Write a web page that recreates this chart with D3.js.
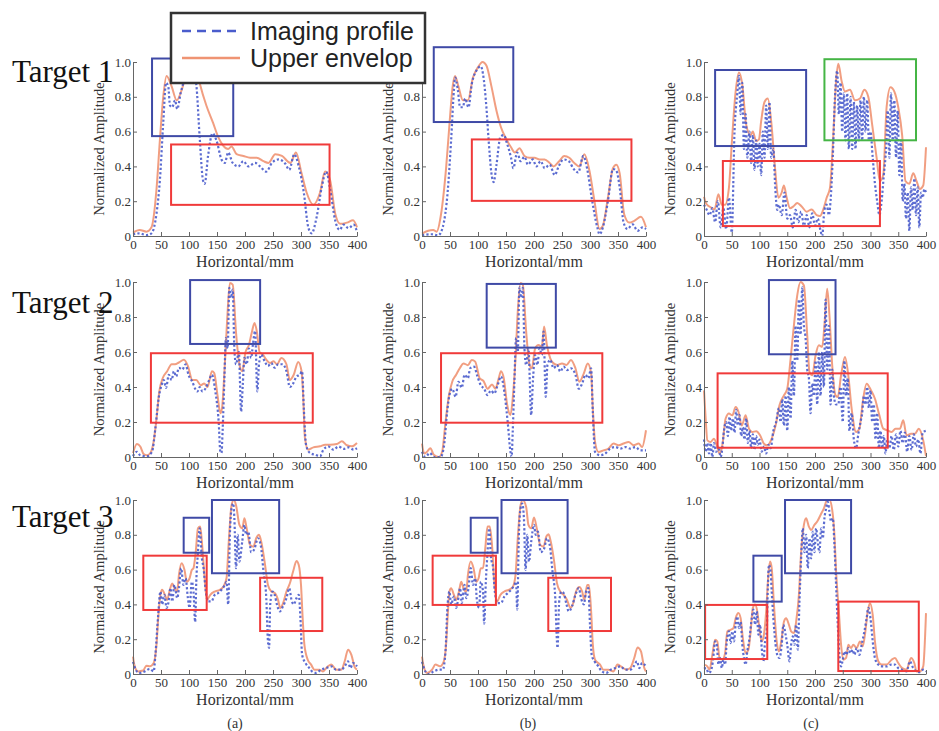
<!DOCTYPE html>
<html lang="en">
<head>
<meta charset="UTF-8">
<title>Imaging profile vs upper envelope</title>
<script src="https://d3js.org/d3.v7.min.js"></script>
<style>
  body { margin: 0; background: #fff; }
  svg { display: block; }
  .axis path, .axis line { stroke: #666; }
  .axis text { fill: #333; font-family: "Liberation Serif", "Times New Roman", serif; font-size: 13px; }
  .lab { fill: #333; font-family: "Liberation Serif", "Times New Roman", serif; }
</style>
</head>
<body>
<svg id="chart" width="939" height="731"></svg>
<script>
// ---- data (x in mm, y normalized amplitude) ----
const targets = ["Target 1", "Target 2", "Target 3"];
const methods = ["(a)", "(b)", "(c)"];
const seriesNames = ["Imaging profile", "Upper envelop"];
const xTicks = [0, 50, 100, 150, 200, 250, 300, 350, 400];
const yTicks = [0, 0.2, 0.4, 0.6, 0.8, 1.0];

// Target 1
const env1a = [[0,0.02],[12,0.035],[24,0.025],[33,0.05],[42,0.27],[48,0.55],[54,0.80],[60,0.92],[69,0.86],[78,0.78],[87,0.84],[97,0.95],[106,1.0],[113,0.96],[119,0.88],[131,0.75],[143,0.65],[152,0.57],[161,0.52],[170,0.50],[176,0.515],[185,0.47],[197,0.46],[209,0.45],[221,0.45],[233,0.43],[242,0.42],[254,0.47],[266,0.46],[281,0.42],[291,0.48],[301,0.36],[310,0.25],[322,0.18],[334,0.25],[343,0.37],[352,0.32],[361,0.13],[370,0.07],[382,0.077],[393,0.09],[400,0.05]];
const prof1a = [[0,0.01],[12,0.015],[24,0.005],[33,0.015],[42,0.13],[48,0.32],[54,0.65],[59,0.88],[63,0.86],[66,0.75],[70,0.74],[75,0.78],[79,0.73],[85,0.82],[92,0.9],[100,0.95],[106,0.96],[113,0.87],[119,0.57],[125,0.32],[128,0.30],[134,0.46],[142,0.59],[149,0.55],[158,0.44],[164,0.42],[170,0.48],[178,0.42],[188,0.40],[197,0.43],[206,0.40],[218,0.42],[227,0.40],[238,0.37],[248,0.42],[260,0.44],[272,0.415],[279,0.38],[288,0.47],[296,0.40],[305,0.25],[313,0.05],[319,0.015],[328,0.11],[337,0.28],[345,0.37],[352,0.27],[361,0.09],[369,0.035],[376,0.065],[385,0.045],[394,0.065],[400,0.025]];
const env1b = [[0,0.013],[11,0.03],[20,0.035],[26,0.025],[34,0.125],[43,0.39],[49,0.64],[55,0.865],[59,0.92],[65,0.86],[73,0.78],[82,0.78],[91,0.91],[100,0.97],[108,1.0],[115,0.98],[124,0.86],[133,0.72],[141,0.625],[150,0.56],[159,0.51],[166,0.48],[174,0.505],[183,0.46],[192,0.45],[201,0.45],[210,0.44],[219,0.44],[228,0.42],[235,0.40],[245,0.43],[254,0.46],[263,0.45],[272,0.42],[281,0.40],[290,0.47],[299,0.375],[308,0.20],[317,0.04],[323,0.06],[332,0.22],[341,0.39],[347,0.41],[353,0.36],[361,0.125],[370,0.077],[379,0.087],[391,0.11],[400,0.05]];
const prof1b = [[0,0.005],[17,0.01],[29,0.004],[37,0.05],[46,0.26],[52,0.55],[57,0.84],[59,0.91],[64,0.84],[68,0.74],[73,0.74],[77,0.79],[83,0.74],[89,0.875],[97,0.95],[105,0.975],[109,0.93],[115,0.74],[119,0.55],[124,0.36],[128,0.31],[133,0.41],[140,0.57],[146,0.58],[152,0.53],[159,0.45],[163,0.39],[170,0.48],[176,0.43],[183,0.455],[189,0.41],[198,0.44],[204,0.40],[212,0.43],[219,0.39],[228,0.41],[237,0.35],[244,0.40],[253,0.44],[262,0.43],[271,0.385],[279,0.365],[288,0.46],[295,0.385],[303,0.22],[313,0.05],[317,0.01],[323,0.05],[332,0.20],[341,0.385],[347,0.375],[353,0.28],[360,0.077],[367,0.04],[376,0.067],[385,0.03],[394,0.05],[400,0.04]];
const env1c = [[0,0.225],[4,0.185],[13,0.163],[19,0.153],[26,0.24],[32,0.18],[38,0.18],[45,0.28],[50,0.53],[57,0.83],[63,0.94],[69,0.87],[76,0.64],[84,0.58],[88,0.60],[94,0.545],[99,0.555],[103,0.66],[109,0.77],[115,0.79],[121,0.66],[128,0.39],[134,0.22],[140,0.25],[144,0.29],[149,0.22],[155,0.16],[161,0.17],[168,0.19],[176,0.17],[185,0.14],[194,0.153],[203,0.12],[209,0.115],[215,0.153],[221,0.22],[227,0.277],[233,0.58],[238,0.89],[242,0.99],[248,0.89],[254,0.83],[263,0.84],[272,0.78],[281,0.79],[289,0.84],[296,0.80],[303,0.64],[311,0.45],[317,0.315],[323,0.35],[329,0.74],[336,0.855],[343,0.83],[350,0.74],[357,0.58],[363,0.315],[370,0.30],[377,0.36],[383,0.315],[389,0.27],[395,0.29],[400,0.51]];
const prof1c = [[0,0.18],[5,0.15],[10,0.12],[15,0.16],[20,0.08],[25,0.2],[30,0.05],[35,0.16],[40,0.04],[45,0.22],[50,0.02],[55,0.6],[60,0.82],[63,0.92],[66,0.7],[69,0.88],[72,0.5],[75,0.7],[78,0.45],[82,0.6],[85,0.42],[88,0.58],[91,0.38],[94,0.55],[97,0.4],[100,0.53],[103,0.35],[106,0.6],[109,0.45],[112,0.75],[115,0.5],[118,0.77],[121,0.45],[125,0.5],[128,0.3],[132,0.15],[135,0.18],[140,0.12],[145,0.25],[150,0.1],[155,0.12],[160,0.05],[165,0.15],[170,0.08],[175,0.14],[180,0.06],[185,0.12],[190,0.05],[195,0.13],[200,0.06],[205,0.1],[210,0.03],[213,0.0],[217,0.15],[221,0.18],[225,0.12],[228,0.2],[232,0.45],[236,0.8],[240,0.95],[243,0.7],[246,0.88],[249,0.6],[252,0.82],[255,0.55],[258,0.82],[261,0.5],[264,0.8],[267,0.5],[270,0.77],[273,0.5],[276,0.75],[279,0.55],[282,0.78],[285,0.55],[288,0.8],[291,0.6],[294,0.78],[297,0.55],[300,0.6],[304,0.45],[308,0.3],[312,0.2],[316,0.12],[320,0.2],[324,0.35],[328,0.5],[331,0.72],[334,0.45],[337,0.82],[340,0.55],[343,0.78],[346,0.45],[349,0.72],[352,0.35],[355,0.55],[358,0.2],[361,0.3],[364,0.1],[367,0.25],[370,0.03],[373,0.28],[376,0.15],[379,0.33],[382,0.12],[385,0.28],[388,0.05],[391,0.25],[394,0.22],[397,0.27],[400,0.25]];

// Target 2
const env2a = [[0,0.023],[7,0.074],[13,0.06],[19,0.017],[25,0.01],[31,0.023],[37,0.09],[42,0.22],[47,0.375],[53,0.45],[61,0.49],[69,0.53],[75,0.53],[82,0.54],[91,0.556],[98,0.52],[106,0.44],[113,0.44],[121,0.41],[127,0.42],[133,0.40],[141,0.49],[145,0.48],[151,0.35],[156,0.25],[159,0.28],[163,0.47],[168,0.775],[173,0.995],[178,0.985],[184,0.71],[190,0.53],[195,0.49],[201,0.60],[207,0.64],[212,0.71],[217,0.766],[221,0.72],[226,0.60],[232,0.585],[238,0.556],[245,0.537],[251,0.547],[257,0.53],[265,0.566],[274,0.53],[280,0.44],[287,0.47],[295,0.543],[301,0.49],[304,0.34],[307,0.11],[313,0.042],[322,0.055],[334,0.061],[343,0.07],[352,0.07],[364,0.074],[373,0.09],[382,0.067],[391,0.061],[400,0.08]];
const prof2a = [[0,0.005],[7,0.03],[13,0.01],[25,0.004],[34,0.03],[40,0.165],[46,0.34],[51,0.41],[55,0.44],[59,0.395],[64,0.47],[69,0.44],[73,0.49],[77,0.46],[82,0.51],[88,0.50],[94,0.53],[99,0.47],[106,0.43],[111,0.39],[115,0.375],[119,0.40],[124,0.375],[130,0.394],[136,0.44],[141,0.47],[147,0.375],[153,0.20],[156,0.03],[158,0.023],[160,0.147],[163,0.43],[166,0.68],[169,0.62],[172,0.966],[175,0.91],[178,0.957],[181,0.62],[184,0.53],[189,0.60],[193,0.26],[196,0.41],[199,0.566],[203,0.53],[207,0.62],[211,0.566],[214,0.64],[218,0.72],[222,0.375],[225,0.53],[229,0.585],[235,0.547],[241,0.52],[247,0.537],[253,0.51],[259,0.53],[267,0.53],[274,0.49],[280,0.40],[286,0.42],[292,0.46],[298,0.47],[302,0.49],[305,0.28],[309,0.07],[316,0.023],[325,0.013],[334,0.004],[340,0.042],[349,0.06],[358,0.042],[367,0.06],[376,0.046],[385,0.055],[394,0.042],[400,0.05]];
const env2b = [[0,0.077],[4,0.02],[9,0.03],[15,0.05],[21,0.013],[30,0.0],[36,0.03],[42,0.20],[48,0.35],[54,0.43],[61,0.47],[68,0.51],[74,0.535],[82,0.525],[89,0.555],[95,0.545],[103,0.45],[110,0.434],[117,0.39],[125,0.415],[131,0.39],[137,0.45],[141,0.49],[146,0.45],[152,0.30],[158,0.24],[162,0.335],[167,0.564],[171,0.83],[176,0.994],[180,0.985],[186,0.717],[192,0.526],[196,0.507],[202,0.62],[208,0.64],[214,0.63],[218,0.746],[223,0.64],[229,0.564],[235,0.535],[242,0.526],[250,0.535],[258,0.526],[266,0.555],[274,0.507],[281,0.43],[289,0.478],[296,0.535],[302,0.478],[305,0.277],[309,0.086],[315,0.029],[324,0.038],[333,0.048],[342,0.077],[351,0.067],[360,0.077],[369,0.086],[378,0.067],[387,0.077],[393,0.057],[400,0.153]];
const prof2b = [[0,0.03],[6,0.0],[14,0.023],[21,0.0],[33,0.0],[39,0.057],[45,0.26],[49,0.354],[54,0.39],[60,0.344],[65,0.43],[71,0.396],[76,0.47],[82,0.45],[86,0.507],[93,0.516],[99,0.46],[105,0.41],[111,0.39],[117,0.354],[123,0.38],[129,0.363],[135,0.41],[141,0.46],[147,0.373],[153,0.20],[158,0.029],[160,0.0],[162,0.143],[165,0.43],[168,0.68],[171,0.60],[174,0.97],[177,0.91],[180,0.966],[183,0.62],[186,0.526],[190,0.62],[195,0.24],[198,0.43],[202,0.583],[206,0.526],[210,0.62],[214,0.583],[217,0.717],[221,0.344],[224,0.526],[229,0.555],[235,0.507],[241,0.526],[247,0.488],[253,0.516],[259,0.497],[266,0.507],[274,0.47],[280,0.39],[286,0.42],[292,0.47],[297,0.45],[302,0.507],[305,0.258],[309,0.029],[318,0.01],[327,0.019],[336,0.048],[345,0.057],[354,0.048],[363,0.057],[372,0.048],[381,0.057],[390,0.038],[400,0.038]];
const env2c = [[0,0.38],[3,0.22],[6,0.095],[12,0.086],[18,0.105],[24,0.057],[28,0.019],[33,0.067],[39,0.22],[45,0.248],[51,0.238],[57,0.286],[62,0.26],[68,0.18],[75,0.238],[81,0.162],[87,0.143],[94,0.147],[101,0.124],[108,0.076],[114,0.067],[122,0.105],[129,0.18],[136,0.295],[144,0.352],[150,0.39],[156,0.56],[162,0.752],[168,0.924],[174,1.0],[180,0.98],[186,0.695],[190,0.486],[195,0.467],[201,0.58],[207,0.638],[213,0.63],[217,0.752],[222,0.962],[226,0.81],[231,0.524],[237,0.352],[241,0.343],[247,0.467],[254,0.571],[260,0.467],[266,0.276],[274,0.143],[280,0.162],[286,0.314],[293,0.419],[301,0.38],[308,0.333],[316,0.238],[323,0.162],[331,0.152],[338,0.143],[345,0.162],[353,0.162],[359,0.21],[365,0.124],[373,0.133],[380,0.133],[387,0.162],[395,0.095],[400,0.005]];
const prof2c = [[0,0.1],[3,0.03],[6,0.08],[9,0.02],[12,0.08],[15,0.0],[18,0.08],[22,0.03],[26,0.06],[30,0.0],[33,0.05],[36,0.15],[40,0.2],[43,0.12],[46,0.23],[49,0.15],[52,0.22],[55,0.14],[58,0.27],[61,0.18],[64,0.24],[67,0.12],[70,0.17],[73,0.1],[76,0.22],[79,0.08],[82,0.15],[85,0.05],[88,0.13],[91,0.04],[94,0.12],[97,0.07],[100,0.1],[104,0.03],[108,0.06],[112,0.02],[116,0.07],[120,0.05],[125,0.15],[130,0.2],[135,0.28],[138,0.2],[141,0.33],[144,0.18],[147,0.35],[150,0.15],[153,0.4],[156,0.22],[159,0.55],[162,0.35],[165,0.75],[168,0.55],[171,0.9],[174,0.7],[177,0.97],[180,0.75],[183,0.68],[186,0.5],[189,0.45],[192,0.25],[195,0.42],[198,0.35],[201,0.55],[204,0.3],[207,0.6],[210,0.35],[213,0.6],[216,0.4],[219,0.9],[222,0.5],[225,0.75],[228,0.3],[231,0.5],[234,0.35],[238,0.3],[242,0.3],[246,0.4],[250,0.2],[253,0.55],[256,0.35],[259,0.45],[262,0.15],[266,0.25],[270,0.1],[274,0.05],[278,0.13],[282,0.2],[285,0.25],[288,0.35],[291,0.3],[294,0.4],[297,0.28],[300,0.38],[303,0.2],[306,0.3],[309,0.1],[312,0.25],[315,0.05],[318,0.15],[321,0.05],[324,0.12],[327,0.02],[330,0.1],[334,0.05],[338,0.12],[342,0.04],[346,0.13],[350,0.06],[354,0.15],[358,0.08],[362,0.14],[366,0.03],[370,0.12],[374,0.04],[378,0.13],[382,0.06],[386,0.1],[390,0.02],[394,0.14],[400,0.15]];

// Target 3
const env3a = [[0,0.10],[3,0.044],[9,0.015],[18,0.02],[24,0.048],[30,0.044],[37,0.063],[42,0.17],[45,0.32],[49,0.455],[52,0.484],[57,0.455],[61,0.426],[65,0.474],[70,0.52],[74,0.493],[79,0.474],[82,0.57],[87,0.637],[92,0.598],[96,0.53],[101,0.55],[105,0.598],[108,0.608],[112,0.70],[116,0.837],[120,0.847],[123,0.76],[128,0.55],[132,0.426],[138,0.455],[146,0.474],[155,0.484],[161,0.50],[167,0.55],[171,0.76],[176,0.97],[180,1.0],[184,0.97],[190,0.857],[195,0.837],[199,0.895],[203,0.837],[209,0.742],[215,0.732],[220,0.78],[225,0.80],[229,0.76],[235,0.646],[241,0.512],[247,0.474],[253,0.465],[259,0.426],[263,0.38],[268,0.407],[274,0.474],[280,0.52],[286,0.59],[292,0.65],[296,0.627],[300,0.512],[303,0.32],[306,0.17],[312,0.082],[318,0.054],[324,0.025],[333,0.025],[339,0.015],[348,0.044],[354,0.054],[363,0.025],[372,0.025],[378,0.073],[384,0.14],[390,0.11],[396,0.038],[400,0.025]];
const prof3a = [[0,0.07],[5,0.025],[11,0.006],[21,0.015],[30,0.029],[37,0.015],[40,0.11],[45,0.34],[49,0.474],[52,0.40],[56,0.455],[60,0.38],[63,0.407],[67,0.493],[70,0.417],[74,0.512],[79,0.436],[82,0.493],[86,0.608],[90,0.512],[94,0.55],[98,0.436],[101,0.38],[105,0.53],[108,0.474],[111,0.30],[113,0.53],[116,0.70],[119,0.837],[123,0.665],[126,0.608],[130,0.474],[134,0.417],[140,0.417],[146,0.455],[152,0.465],[158,0.484],[164,0.512],[167,0.53],[170,0.40],[173,0.80],[176,0.952],[179,0.98],[181,0.895],[184,0.608],[187,0.80],[190,0.646],[195,0.76],[199,0.857],[202,0.80],[206,0.818],[211,0.70],[217,0.72],[223,0.78],[228,0.742],[233,0.59],[238,0.436],[241,0.187],[243,0.15],[245,0.40],[249,0.474],[253,0.455],[257,0.40],[262,0.36],[268,0.39],[274,0.436],[279,0.493],[283,0.426],[287,0.40],[292,0.436],[296,0.455],[299,0.32],[302,0.11],[308,0.063],[315,0.034],[321,0.011],[327,0.006],[336,0.025],[345,0.034],[354,0.044],[363,0.025],[372,0.025],[378,0.044],[384,0.073],[388,0.034],[393,0.063],[400,0.044]];
const env3b = [[0,0.10],[3,0.044],[9,0.006],[18,0.025],[24,0.054],[32,0.044],[39,0.073],[43,0.17],[46,0.34],[49,0.474],[52,0.493],[57,0.455],[61,0.426],[66,0.474],[70,0.53],[74,0.493],[79,0.474],[82,0.57],[87,0.646],[92,0.608],[97,0.53],[101,0.55],[105,0.608],[109,0.608],[113,0.723],[117,0.847],[121,0.847],[125,0.742],[129,0.53],[134,0.417],[140,0.455],[147,0.474],[155,0.484],[162,0.50],[167,0.57],[171,0.78],[176,0.97],[180,1.0],[186,0.96],[190,0.857],[195,0.837],[200,0.90],[205,0.837],[211,0.742],[217,0.732],[222,0.79],[226,0.803],[230,0.76],[236,0.646],[241,0.522],[247,0.474],[253,0.455],[259,0.426],[265,0.38],[270,0.407],[275,0.474],[281,0.50],[286,0.474],[290,0.426],[295,0.512],[298,0.512],[302,0.36],[305,0.17],[309,0.082],[318,0.054],[324,0.025],[333,0.025],[342,0.015],[349,0.054],[355,0.044],[365,0.025],[372,0.034],[379,0.092],[385,0.153],[391,0.13],[397,0.034],[400,0.015]];
const prof3b = [[0,0.07],[6,0.015],[12,0.0],[21,0.015],[30,0.025],[37,0.025],[42,0.13],[45,0.36],[49,0.474],[52,0.40],[57,0.445],[61,0.38],[64,0.417],[68,0.493],[71,0.407],[76,0.512],[79,0.436],[83,0.493],[87,0.608],[91,0.512],[95,0.55],[98,0.426],[102,0.38],[105,0.53],[109,0.474],[111,0.29],[114,0.53],[117,0.70],[120,0.837],[123,0.675],[127,0.608],[130,0.474],[135,0.407],[141,0.407],[147,0.445],[153,0.465],[159,0.484],[165,0.512],[168,0.53],[170,0.37],[173,0.80],[176,0.952],[179,0.98],[182,0.895],[185,0.598],[188,0.80],[191,0.646],[195,0.76],[200,0.857],[203,0.80],[207,0.818],[212,0.70],[218,0.72],[223,0.78],[228,0.742],[233,0.59],[238,0.436],[241,0.187],[242,0.15],[245,0.417],[249,0.474],[253,0.465],[258,0.40],[262,0.36],[268,0.39],[274,0.455],[280,0.493],[284,0.436],[289,0.40],[293,0.474],[297,0.493],[300,0.283],[303,0.11],[308,0.073],[315,0.044],[321,0.015],[329,0.006],[337,0.025],[345,0.034],[354,0.044],[363,0.025],[372,0.025],[378,0.044],[384,0.073],[388,0.034],[393,0.063],[400,0.044]];
const env3c = [[0,0.054],[6,0.044],[10,0.025],[15,0.11],[20,0.197],[24,0.187],[28,0.092],[33,0.082],[38,0.12],[42,0.245],[48,0.254],[53,0.264],[57,0.32],[62,0.35],[66,0.32],[70,0.206],[75,0.12],[80,0.14],[84,0.245],[88,0.38],[92,0.40],[96,0.36],[100,0.254],[104,0.187],[108,0.226],[112,0.36],[116,0.57],[119,0.646],[122,0.608],[126,0.40],[131,0.187],[135,0.13],[140,0.206],[144,0.30],[148,0.32],[153,0.283],[157,0.245],[162,0.235],[166,0.30],[171,0.455],[175,0.70],[180,0.857],[184,0.895],[189,0.847],[193,0.828],[199,0.857],[204,0.876],[210,0.914],[216,0.952],[222,1.0],[226,1.0],[231,0.943],[235,0.80],[238,0.59],[243,0.36],[247,0.168],[251,0.082],[256,0.092],[260,0.168],[265,0.149],[269,0.168],[275,0.149],[281,0.187],[286,0.159],[290,0.226],[295,0.36],[299,0.407],[304,0.34],[308,0.187],[314,0.073],[320,0.054],[329,0.054],[338,0.082],[344,0.092],[350,0.063],[357,0.034],[365,0.025],[373,0.092],[379,0.063],[383,0.015],[389,0.015],[395,0.044],[400,0.35]];
const prof3c = [[0,0.03],[4,0.034],[8,0.006],[12,0.015],[16,0.073],[20,0.187],[23,0.168],[26,0.054],[29,0.092],[32,0.034],[35,0.082],[38,0.054],[41,0.187],[45,0.245],[48,0.178],[51,0.245],[54,0.187],[57,0.283],[60,0.33],[63,0.264],[66,0.30],[69,0.168],[72,0.092],[75,0.054],[78,0.13],[82,0.206],[86,0.32],[89,0.37],[92,0.283],[95,0.36],[98,0.226],[101,0.283],[104,0.149],[107,0.073],[110,0.187],[113,0.245],[115,0.493],[117,0.627],[120,0.59],[122,0.474],[125,0.32],[129,0.168],[132,0.11],[136,0.092],[140,0.168],[143,0.283],[147,0.226],[150,0.168],[154,0.073],[157,0.168],[160,0.216],[163,0.168],[166,0.283],[169,0.14],[172,0.417],[175,0.665],[178,0.837],[181,0.70],[184,0.80],[187,0.608],[190,0.78],[193,0.665],[196,0.818],[199,0.70],[202,0.837],[205,0.76],[208,0.70],[211,0.837],[214,0.78],[217,0.895],[220,0.952],[223,0.99],[226,0.933],[229,0.876],[232,0.895],[235,0.742],[238,0.512],[241,0.283],[244,0.11],[247,0.044],[250,0.082],[253,0.13],[257,0.11],[260,0.149],[264,0.12],[268,0.14],[271,0.11],[275,0.149],[280,0.11],[284,0.168],[289,0.245],[293,0.32],[296,0.38],[300,0.32],[304,0.187],[308,0.092],[314,0.054],[322,0.044],[329,0.044],[337,0.054],[344,0.054],[350,0.034],[357,0.025],[365,0.015],[371,0.073],[377,0.034],[383,0.015],[389,0.011],[395,0.025],[400,0.015]];

// regions of interest per panel: [x0, x1, yLow, yHigh, kind]
const roi1a = [[34, 179, 0.574, 1.02, "peak"], [68, 351, 0.179, 0.526, "base"]];
const roi1b = [[21, 163, 0.655, 1.085, "peak"], [89, 374, 0.202, 0.555, "base"]];
const roi1c = [[20, 184, 0.517, 0.954, "peak"], [217, 382, 0.55, 1.016, "extra"], [34, 317, 0.057, 0.431, "base"]];
const roi2a = [[102, 227, 0.646, 1.011, "peak"], [32, 321, 0.196, 0.593, "base"]];
const roi2b = [[115.5, 239, 0.625, 0.989, "peak"], [34, 322, 0.196, 0.593, "base"]];
const roi2c = [[117, 237, 0.587, 1.011, "peak"], [24.5, 331, 0.053, 0.478, "base"]];
const roi3a = [[90.5, 136, 0.697, 0.898, "peak"], [141, 261, 0.579, 1.0, "peak"], [18.4, 131.6, 0.368, 0.68, "base"], [227, 338, 0.247, 0.553, "base"]];
const roi3b = [[87, 135, 0.697, 0.898, "peak"], [142, 260, 0.579, 1.0, "peak"], [19, 132, 0.397, 0.68, "base"], [225.5, 337.5, 0.247, 0.553, "base"]];
const roi3c = [[89, 140, 0.416, 0.68, "peak"], [146, 265, 0.579, 1.0, "peak"], [2, 114, 0.086, 0.397, "base"], [242, 387, 0.017, 0.416, "base"]];

const panels = [
  [[env1a, prof1a, roi1a], [env1b, prof1b, roi1b], [env1c, prof1c, roi1c]],
  [[env2a, prof2a, roi2a], [env2b, prof2b, roi2b], [env2c, prof2c, roi2c]],
  [[env3a, prof3a, roi3a], [env3b, prof3b, roi3b], [env3c, prof3c, roi3c]]
];

// ---- layout ----
const serif = "'Liberation Serif', 'Times New Roman', serif";
const cols = [{ left: 133, width: 224 }, { left: 422, width: 224 }, { left: 704, width: 222 }];
const rows = [{ top: 62, height: 174 }, { top: 282, height: 175 }, { top: 500, height: 174 }];
const titleBase = [82, 313, 527];
const roiColor = { peak: "#3f4aa6", base: "#f03a3a", extra: "#45b545" };
const envColor = "#ef9473";
const profColor = "#4a5ccc";

const svg = d3.select("#chart");

rows.forEach((r, ri) => {
  cols.forEach((c, ci) => {
    const [env, prof, roi] = panels[ri][ci];
    const x = d3.scaleLinear().domain([0, 400]).range([c.left, c.left + c.width]);
    const y = d3.scaleLinear().domain([0, 1]).range([r.top + r.height, r.top]);
    const g = svg.append("g");

    const line = d3.line().x(d => x(d[0])).y(d => y(d[1])).curve(d3.curveMonotoneX);

    g.append("path").datum(env)
      .attr("d", line).attr("fill", "none")
      .attr("stroke", envColor).attr("stroke-width", 2).attr("opacity", 0.9);
    g.append("path").datum(prof)
      .attr("d", line).attr("fill", "none")
      .attr("stroke", profColor).attr("stroke-width", 2.2)
      .attr("stroke-dasharray", "2.2,2.2").attr("opacity", 0.9);

    g.selectAll("rect.roi").data(roi).join("rect")
      .attr("class", "roi")
      .attr("x", d => x(d[0]))
      .attr("y", d => y(d[3]))
      .attr("width", d => x(d[1]) - x(d[0]))
      .attr("height", d => y(d[2]) - y(d[3]))
      .attr("fill", "none")
      .attr("stroke", d => roiColor[d[4]])
      .attr("stroke-width", 2);

    // axes, ticks pointing inward
    const ax = g.append("g").attr("class", "axis")
      .attr("transform", `translate(0,${r.top + r.height})`)
      .call(d3.axisBottom(x).tickValues(xTicks).tickSizeInner(-4).tickSizeOuter(0).tickPadding(4));
    const ay = g.append("g").attr("class", "axis")
      .attr("transform", `translate(${c.left},0)`)
      .call(d3.axisLeft(y).tickValues(yTicks).tickSizeInner(-4).tickSizeOuter(0).tickPadding(2)
        .tickFormat(d => d === 0 ? "0" : d3.format(".1f")(d)));
    ax.attr("font-family", null);
    ay.attr("font-family", null);
    g.selectAll(".axis text").style("font-family", serif).style("font-size", "13px");

    g.append("text").attr("class", "lab")
      .attr("x", c.left + c.width / 2).attr("y", r.top + r.height + 31)
      .attr("text-anchor", "middle")
      .style("font-family", serif).style("font-size", "16px")
      .text("Horizontal/mm");
    g.append("text").attr("class", "lab")
      .attr("transform", `translate(${c.left - 34},${r.top + r.height / 2}) rotate(-90)`)
      .attr("dy", "0.35em")
      .attr("text-anchor", "middle")
      .style("font-family", serif).style("font-size", "14.5px")
      .text("Normalized Amplitude");
  });

  svg.append("text")
    .attr("x", 12).attr("y", titleBase[ri])
    .style("font-family", serif).style("font-size", "31px")
    .attr("fill", "#111")
    .text(targets[ri]);
});

// sub-figure captions
const capX = [235, 528, 811];
methods.forEach((m, i) => {
  svg.append("text").attr("class", "lab")
    .attr("x", capX[i]).attr("y", 728)
    .attr("text-anchor", "middle")
    .style("font-family", serif).style("font-size", "14px")
    .text(m);
});

// legend
const lg = svg.append("g");
lg.append("rect").attr("x", 171).attr("y", 13).attr("width", 254).attr("height", 70)
  .attr("fill", "#fff").attr("stroke", "#333").attr("stroke-width", 2.5);
[31, 58].forEach((ly, i) => {
  lg.append("line").attr("x1", 182).attr("x2", 240).attr("y1", ly).attr("y2", ly)
    .attr("stroke", i === 0 ? profColor : envColor)
    .attr("stroke-width", 2.5)
    .attr("stroke-dasharray", i === 0 ? "9,6" : null);
  lg.append("text").attr("x", 250).attr("y", ly).attr("dy", "0.35em")
    .style("font-family", "'Liberation Sans', Arial, sans-serif")
    .style("font-size", "25px").attr("fill", "#222")
    .text(seriesNames[i]);
});
</script>
</body>
</html>
